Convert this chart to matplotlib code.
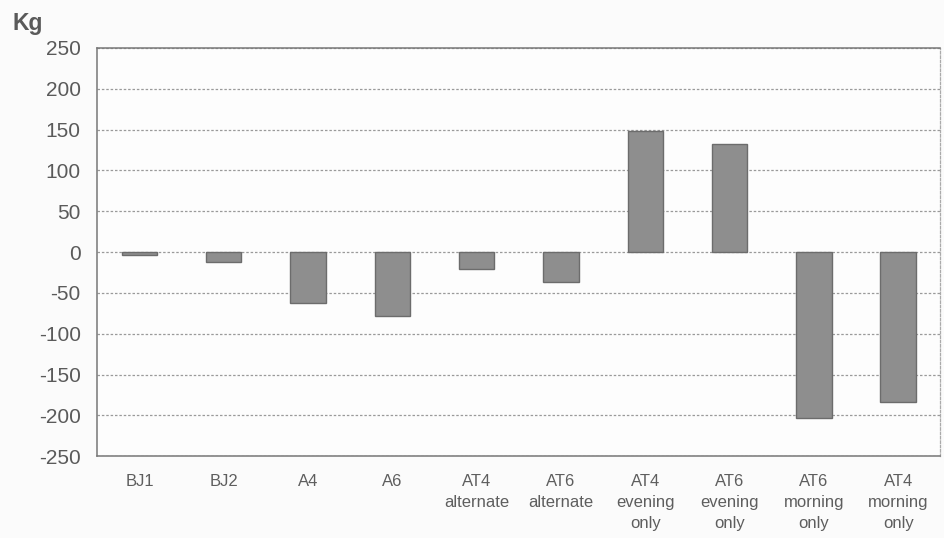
import matplotlib
matplotlib.use("Agg")
import matplotlib.pyplot as plt
import numpy as np

# Mass change per treatment (kg)
categories = ["BJ1", "BJ2", "A4", "A6", "AT4\nalternate", "AT6\nalternate",
              "AT4\nevening\nonly", "AT6\nevening\nonly", "AT6\nmorning\nonly",
              "AT4\nmorning\nonly"]
values = [-4, -12, -62, -78, -21, -37, 148, 132, -203, -184]
y_ticks = [250, 200, 150, 100, 50, 0, -50, -100, -150, -200, -250]

plt.rcParams["font.family"] = ["Liberation Sans", "DejaVu Sans"]

fig = plt.figure(figsize=(9.45, 5.38), dpi=100, facecolor="#fbfbfb")
ax = fig.add_axes([0.103, 0.152, 0.892, 0.759])
ax.set_facecolor("#fdfdfd")

x = np.arange(len(categories))
ax.bar(x, values, width=0.42, color="#8e8e8e", edgecolor="#6c6c6c",
       linewidth=1.0, zorder=3)

ax.set_xlim(-0.5, len(categories) - 0.5)
ax.set_ylim(-250, 250)
ax.set_yticks(y_ticks)
ax.set_yticklabels([str(v) for v in y_ticks])
ax.set_xticks(x)
ax.set_xticklabels(categories, linespacing=1.5, va="top")

ax.yaxis.grid(True, linestyle=(0, (2, 1.5)), color="#9a9a9a", linewidth=0.9,
              zorder=0)
ax.tick_params(axis="y", length=0, pad=12, labelsize=15, labelcolor="#5a5a5a")
ax.tick_params(axis="x", length=0, pad=13, labelsize=12, labelcolor="#5e5e5e")

for side in ["left", "bottom", "top"]:
    ax.spines[side].set_color("#777777")
    ax.spines[side].set_linewidth(1.1)
ax.spines["right"].set_color("#aaaaaa")
ax.spines["right"].set_linestyle((0, (2, 1.5)))
ax.spines["right"].set_linewidth(0.9)

fig.text(0.013, 0.935, "Kg", fontsize=16.5, fontweight="bold", color="#5a5a5a",
         ha="left", va="bottom")

fig.savefig("out.png", dpi=100, facecolor=fig.get_facecolor())
